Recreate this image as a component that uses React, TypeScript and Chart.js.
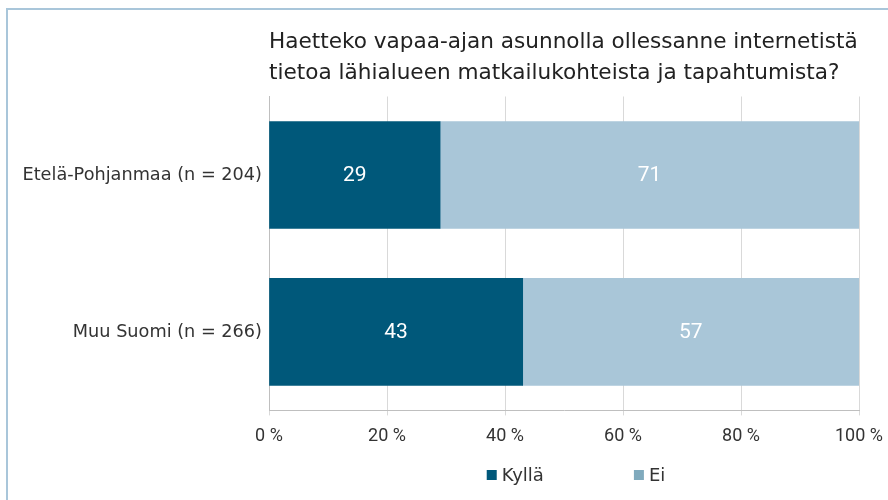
import React, { useEffect, useRef } from "react";
import { Chart, registerables } from "chart.js";

Chart.register(...registerables);

const categories = ["Etelä-Pohjanmaa (n = 204)", "Muu Suomi (n = 266)"];
const seriesNames = ["Kyllä", "Ei"];
const kyllaValues = [29, 43];
const eiValues = [71, 57];
const xTickValues = [0, 20, 40, 60, 80, 100];
const titleLines = [
  "Haetteko vapaa-ajan asunnolla ollessanne internetistä",
  "tietoa lähialueen matkailukohteista ja tapahtumista?",
];

const FONT = "'DejaVu Sans'";
const NUM_FONT = "Roboto";
const barColors = ["#00587a", "#a9c6d8"];
const legendColors = ["#00587a", "#80aabd"];

const valueLabelPlugin = {
  id: "valueLabels",
  afterDatasetsDraw(chart: any) {
    const ctx = chart.ctx;
    ctx.save();
    ctx.fillStyle = "#ffffff";
    ctx.font = `21px ${NUM_FONT}`;
    ctx.textAlign = "center";
    ctx.textBaseline = "middle";
    chart.data.datasets.forEach((ds: any, di: number) => {
      const meta = chart.getDatasetMeta(di);
      meta.data.forEach((bar: any, i: number) => {
        const c = bar.getCenterPoint();
        ctx.fillText(String(ds.data[i]), c.x, c.y + 1);
      });
    });
    ctx.restore();
  },
};

const customLegendPlugin = {
  id: "customLegend",
  afterDraw(chart: any) {
    const ctx = chart.ctx;
    const area = chart.chartArea;
    ctx.save();
    ctx.font = `18px ${FONT}`;
    ctx.textBaseline = "middle";
    ctx.textAlign = "left";
    const box = 10;
    const gap = 5;
    const spacing = 90;
    const widths = chart.data.datasets.map((ds: any) => box + gap + ctx.measureText(ds.label).width);
    const total = widths.reduce((a: number, b: number) => a + b, 0) + spacing * (widths.length - 1);
    let x = (area.left + area.right) / 2 + 12 - total / 2;
    const y = chart.height - 25;
    chart.data.datasets.forEach((ds: any, i: number) => {
      ctx.fillStyle = legendColors[i];
      ctx.fillRect(x, y - box / 2, box, box);
      ctx.fillStyle = "#333333";
      ctx.fillText(ds.label, x + box + gap, y + 1);
      x += widths[i] + spacing;
    });
    ctx.restore();
  },
};

export default function App() {
  const ref = useRef<HTMLCanvasElement | null>(null);
  useEffect(() => {
    document.documentElement.style.overflow = "hidden";
    if (!ref.current) return;
    const chart = new Chart(ref.current, {
      type: "bar",
      data: {
        labels: categories,
        datasets: [
          { label: seriesNames[0], data: kyllaValues, backgroundColor: barColors[0] },
          { label: seriesNames[1], data: eiValues, backgroundColor: barColors[1] },
        ],
      },
      options: {
        indexAxis: "y",
        animation: false,
        responsive: false,
        maintainAspectRatio: false,
        layout: { padding: { left: 0, right: 29, top: 0, bottom: 43 } },
        datasets: { bar: { barThickness: 107, borderWidth: 0 } },
        scales: {
          x: {
            stacked: true,
            min: 0,
            max: 100,
            afterBuildTicks(scale: any) {
              scale.ticks = xTickValues.map((v) => ({ value: v }));
            },
            afterFit(scale: any) {
              scale.paddingLeft = 0;
              scale.paddingRight = 0;
            },
            ticks: {
              padding: 10,
              color: "#333333",
              font: { family: NUM_FONT, size: 18 },
              callback: (v: any) => `${v} %`,
            },
            grid: { color: "#d9d9d9", lineWidth: 1, tickLength: 5, drawOnChartArea: true },
            border: { display: true, color: "#bfbfbf", width: 1 },
          },
          y: {
            stacked: true,
            afterFit(scale: any) {
              scale.width = 261;
            },
            ticks: {
              padding: 7,
              color: "#333333",
              font: { family: FONT, size: 17.7 },
            },
            grid: { display: false, drawTicks: false },
            border: { display: true, color: "#bfbfbf", width: 1 },
          },
        },
        plugins: {
          legend: { display: false },
          tooltip: { enabled: false },
          title: {
            display: true,
            text: titleLines,
            align: "start",
            fullSize: false,
            color: "#222222",
            font: { family: FONT, size: 21.6, weight: "normal", lineHeight: 31 / 21.6 },
            padding: { top: 16.5, bottom: 8 },
          },
        },
      },
      plugins: [valueLabelPlugin, customLegendPlugin],
    });
    return () => chart.destroy();
  }, []);
  return (
    <div>
      <div
        style={{
          position: "fixed",
          left: 6,
          top: 8,
          width: 882,
          height: 492,
          borderTop: "2px solid #a9c6da",
          borderLeft: "2px solid #a9c6da",
          boxSizing: "border-box",
        }}
      />
      <canvas
        ref={ref}
        width={880}
        height={490}
        style={{ position: "fixed", left: 8, top: 10, width: 880, height: 490 }}
      />
    </div>
  );
}
